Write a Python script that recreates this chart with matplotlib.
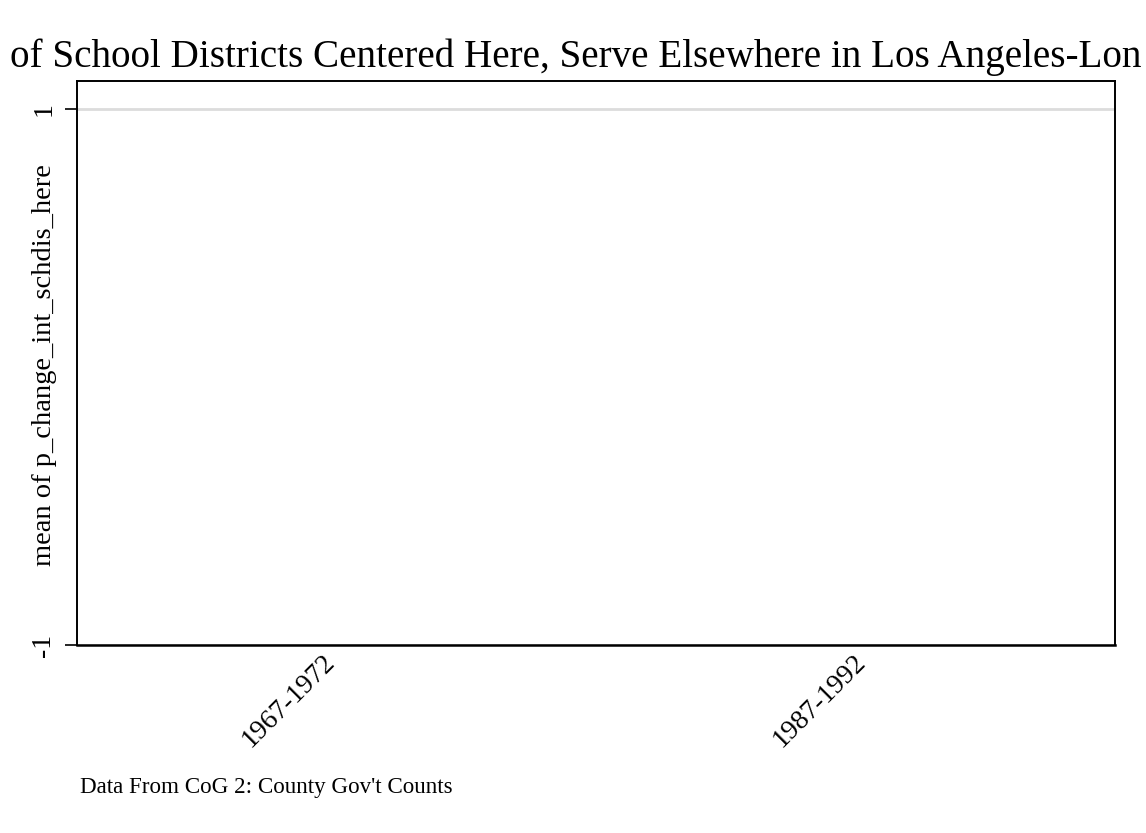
import matplotlib
matplotlib.use("Agg")
import matplotlib.pyplot as plt
import numpy as np

plt.rcParams['font.family'] = ['Liberation Serif', 'DejaVu Serif']

periods = ["1967-1972", "1987-1992"]
mean_change = [np.nan, np.nan]  # no values plotted in the source chart
yticks = [-1, 1]

title = "of School Districts Centered Here, Serve Elsewhere in Los Angeles-Lon"

fig = plt.figure(figsize=(11.46, 8.33), dpi=100)
ax = fig.add_axes([77/1146, 1 - 645/833, (1115-77)/1146, (645-81)/833])

x = np.arange(len(periods))
ax.bar(x, mean_change, color="#1a476f")

ax.set_ylim(-1, 1.105)
ax.set_xlim(-0.462, 1.493)
ax.set_yticks(yticks)
ax.set_yticklabels([str(v) for v in yticks], rotation=90, va="center", fontsize=20)
ax.yaxis.grid(True, color="#dcdcdc", linewidth=2)
ax.set_axisbelow(True)
ax.tick_params(axis="y", length=9, width=1.2, pad=6)

ax.set_xticks(x)
ax.set_xticklabels(periods, rotation=45, ha="right", rotation_mode="anchor", fontsize=20)
ax.tick_params(axis="x", length=0, pad=3)

for s in ax.spines.values():
    s.set_linewidth(1.4)
ax.spines["bottom"].set_linewidth(1.8)

fig.text(45/1146, 1 - 365/833, "mean of p_change_int_schdis_here",
         rotation=90, ha="center", va="center", fontsize=20.5)

fig.text(10/1146, 1 - 67/833, title, ha="left", va="baseline", fontsize=28.2)
fig.text(80/1146, 1 - 793/833, "Data From CoG 2: County Gov't Counts",
         ha="left", va="baseline", fontsize=16.6)

fig.savefig("out.png", dpi=100)
